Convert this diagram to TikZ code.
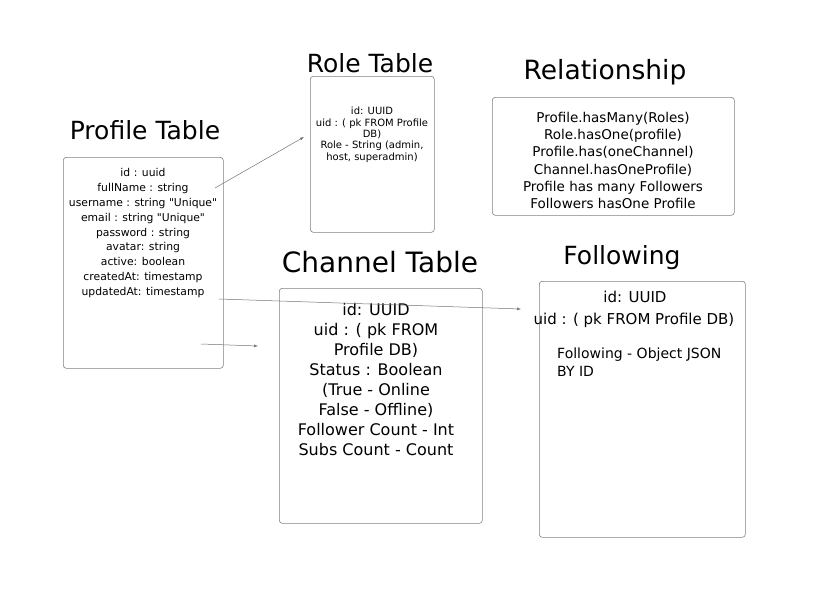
\documentclass[tikz,border=0pt]{standalone}
\usepackage{fontspec}
\setmainfont{DejaVu Sans}
\usetikzlibrary{arrows.meta}

\begin{document}
\begin{tikzpicture}[x=1pt, y=-1pt,
      tbl/.style={draw=black!50, rounded corners=3pt, line width=0.6pt, inner sep=0pt, anchor=north west},
      ttl/.style={font=\fontsize{25}{29}\selectfont},
      fld/.style={align=center, inner sep=0pt, anchor=north},
      lnk/.style={draw=black!55, line width=0.5pt, -{Latex[length=4pt,width=3pt]}}]
    \useasboundingbox (0,0) rectangle (814,605);
    \node (profile) [tbl, minimum width=160pt, minimum height=211pt] at (63,157) {};
    \node (role) [tbl, minimum width=124pt, minimum height=156pt] at (310,76) {};
    \node (relation) [tbl, minimum width=242pt, minimum height=118pt] at (492,97) {};
    \node (channel) [tbl, minimum width=203pt, minimum height=235pt] at (279,288) {};
    \node (following) [tbl, minimum width=206pt, minimum height=256pt] at (539,281) {};

    \node (profileTitle) [ttl] at (145,130) {Profile Table};
    \node (roleTitle) [ttl] at (370,63) {Role Table};
    \node (relationTitle) [ttl, font=\fontsize{26.5}{30}\selectfont] at (605,72) {Relationship};
    \node (channelTitle) [ttl, font=\fontsize{28}{32}\selectfont] at (380,262) {Channel Table};
    \node (followingTitle) [ttl] at (622,258) {Following};

    \node (profileFields) [fld, font=\fontsize{10.8}{14.9}\selectfont] at (143,168)
      {id : uuid\\ fullName : string\\ username : string \textquotedbl Unique\textquotedbl\\ email : string \textquotedbl Unique\textquotedbl\\
       password : string\\ avatar: string\\ active: boolean\\ createdAt: timestamp\\ updatedAt: timestamp};
    \node (roleFields) [fld, font=\fontsize{10}{11.4}\selectfont] at (372,107)
      {id: UUID\\ uid : ( pk FROM Profile\\ DB)\\ Role - String (admin,\\ host, superadmin)};
    \node (relationFields) [fld, font=\fontsize{13.5}{17.2}\selectfont] at (613,112)
      {Profile.hasMany(Roles)\\ Role.hasOne(profile)\\ Profile.has(oneChannel)\\ Channel.hasOneProfile)\\
       Profile has many Followers\\ Followers hasOne Profile};
    \node (channelFields) [fld, font=\fontsize{16}{20}\selectfont] at (376,303)
      {id: UUID\\ uid : ( pk FROM\\ Profile DB)\\ Status : Boolean\\ (True - Online\\ False - Offline)\\
       Follower Count - Int\\ Subs Count - Count};
    \node (followId) [fld, font=\fontsize{15}{18}\selectfont] at (635,291) {id: UUID};
    \node (followUid) [fld, font=\fontsize{15}{18}\selectfont] at (634,313) {uid : ( pk FROM Profile DB)};
    \node (followObj) [inner sep=0pt, anchor=north west, align=left, font=\fontsize{14}{18}\selectfont] at (557,348)
      {Following - Object JSON\\ BY ID};

    \coordinate (toRole) at (215,188);
    \coordinate (atRole) at (304,137);
    \coordinate (toFollow) at (219,299);
    \coordinate (atFollow) at (521,309);
    \coordinate (toChannel) at (201,344);
    \coordinate (atChannel) at (258,346);
    \draw[lnk] (toRole) -- (atRole);
    \draw[lnk] (toFollow) -- (atFollow);
    \draw[lnk] (toChannel) -- (atChannel);
  \end{tikzpicture}
\end{document}
